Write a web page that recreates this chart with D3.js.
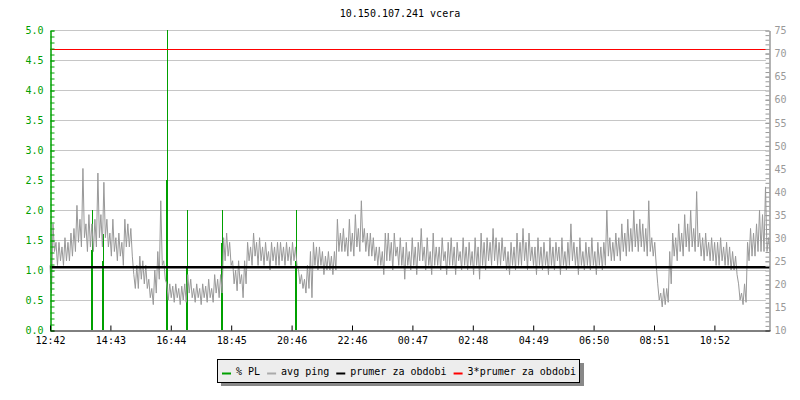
<!DOCTYPE html>
<html>
  <head>
    <title>10.150.107.241 vcera</title>
    <script src="https://d3js.org/d3.v7.min.js"></script>
    <style>
      body { margin: 0; background: #fff; }
      text { font-family: "DejaVu Sans Mono", monospace; font-size: 10px; }
    </style>
  </head>
  <body>
    <svg id="chart" width="800" height="400"></svg>
    <script>
      // chart data
      var title = "10.150.107.241 vcera";
      var timeLabels = ["12:42", "14:43", "16:44", "18:45", "20:46", "22:46",
                        "00:47", "02:48", "04:49", "06:50", "08:51", "10:52"];
      var tickStepMin = 120.8;     // minutes between time labels
      var spanMin = 1440;          // whole day

      // avg ping [ms], right axis, samples evenly spread over the day
      // (read as the upper / lower edge of the jittery trace, pair by pair)
      var avgPing = [
        24,18, 33,27, 29,24, 29,25, 28,24, 30,25, 29,25, 31,26, 32,27, 37,29,
        34,28, 45,30, 33,27, 35,28, 33,27, 34,28, 44,30, 35,28, 42,30, 34,28,
        31,26, 34,27, 30,25, 31,26, 29,24, 34,28, 33,28, 32,26, 22,19, 24,19,
        26,21, 25,20, 24,19, 21,17, 19,15.5, 23,18, 27,21, 38,24, 25,21, 20,16.5,
        20,17, 19.5,16, 20,17, 19,15.5, 19.5,16.5, 20,16, 22,18, 21,17, 19,16, 20,17,
        19,15.5, 20,17, 19.5,16, 21,17, 19,16, 22,18, 21,17, 22,18, 30,25, 31,26,
        29,24, 25,20, 23,18.5, 25,20, 22,17, 25,20, 29,25, 28,24, 31,26, 29,24,
        30,25, 28,24, 29,25, 27,23, 29,25, 28,24, 29,24, 29,25, 28,24, 29,25,
        28,24, 29,25, 28,24, 23,20, 22,19, 21,18, 24,19, 27,17, 29,24, 28,23,
        28,24, 27,22, 26,23, 27,23, 26,22, 27,23, 34,27, 31,27, 32,27, 30,26,
        34,27, 31,26, 35,28, 32,27, 38,29, 32,27, 31,26, 31,26, 30,25, 28,24,
        28,24, 27,22, 31,25, 31,25, 29,23, 31,26, 28,24, 30,24, 28,21, 29,24,
        27,23, 30,24, 28,22, 29,25, 32,25, 28,23, 30,24, 27,22, 31,24, 28,24,
        28,23, 30,25, 27,22, 29,24, 30,24, 28,22, 29,25, 27,23, 30,24, 28,23,
        29,24, 27,22, 30,24, 28,21, 31,24, 29,23, 30,25, 29,24, 32,25, 30,24,
        29,24, 30,25, 28,23, 27,22, 29,24, 28,23, 31,24, 29,24, 32,25, 29,23,
        31,25, 28,24, 28,22, 30,24, 28,23, 29,24, 27,22, 30,24, 28,23, 29,25,
        28,22, 30,24, 27,23, 29,24, 33,25, 29,24, 28,22, 30,24, 27,23, 29,24,
        28,23, 30,24, 27,22, 29,24, 28,23, 29,24, 36,26, 30,25, 29,25, 31,26,
        30,25, 33,27, 31,26, 34,27, 32,27, 36,28, 33,27, 34,28, 33,27, 32,26,
        38,27, 30,26, 29,24, 20,16.5, 18,15, 19,15.5, 19,16, 27,20, 31,26, 30,25,
        33,27, 31,26, 35,28, 33,27, 36,28, 32,27, 40,28, 31,26, 30,25, 31,26,
        29,25, 30,25, 29,24, 29,24, 30,25, 28,24, 29,24, 28,23, 27,23, 26,22,
        20,16.5, 18,15.5, 20,16, 29,25, 32,26, 31,26, 33,27, 36,27, 35,27, 41,27,
        30,27
      ];

      // packet loss samples [minute from start, % PL], left axis
      var plMinutes = [82, 84, 104, 106, 232, 234, 272, 274, 342, 344, 490, 492];
      var plValues  = [1.33, 2.0, 1.15, 1.6, 2.5, 5.0, 1.05, 2.0, 1.45, 2.0, 1.15, 2.0];
      var plSampleMin = 2;

      var avgPeriod = 23.6;        // prumer za obdobi [ms]
      var legendItems = ["% PL", "avg ping", "prumer za obdobi", "3*prumer za obdobi"];

      var colGreen = "#00a000", colPing = "#999999", colGrid = "#c6c6c6";
      var legendColors = [colGreen, "#aaaaaa", "#000000", "#ff0000"];

      var svg = d3.select("#chart");
      var plotLeft = 50, plotRight = 770, plotTop = 30, plotBottom = 330;

      var x = d3.scaleLinear().domain([0, spanMin]).range([plotLeft, plotRight]);
      var yPL = d3.scaleLinear().domain([0, 5]).range([plotBottom, plotTop]);
      var yPing = d3.scaleLinear().domain([10, 75]).range([plotBottom, plotTop]);
      var pingStepMin = spanMin / (avgPing.length - 1);

      svg.append("text")
        .attr("x", 400).attr("y", 17)
        .attr("text-anchor", "middle")
        .text(title);

      // horizontal grid on the left scale
      svg.append("g")
        .selectAll("line")
        .data(d3.range(0.5, 5.01, 0.5))
        .join("line")
        .attr("x1", plotLeft + 4).attr("x2", plotRight - 4)
        .attr("y1", d => Math.round(yPL(d)) + 0.5)
        .attr("y2", d => Math.round(yPL(d)) + 0.5)
        .style("stroke", colGrid);

      // % PL bars
      svg.append("g")
        .selectAll("rect")
        .data(plMinutes.map((m, i) => ({m: m, v: Math.min(plValues[i], 5)})))
        .join("rect")
        .attr("x", d => Math.round(x(d.m)))
        .attr("width", Math.max(1, x(plSampleMin) - x(0)))
        .attr("y", d => Math.round(yPL(d.v)))
        .attr("height", d => plotBottom - Math.round(yPL(d.v)))
        .style("fill", colGreen);

      // avg ping line
      var line = d3.line()
        .x((d, i) => x(i * pingStepMin))
        .y(d => yPing(d));
      svg.append("path")
        .datum(avgPing)
        .attr("d", line)
        .style("fill", "none")
        .style("stroke", colPing)
        .style("stroke-width", 1);

      // prumer za obdobi and 3*prumer
      svg.append("line")
        .attr("x1", plotLeft).attr("x2", plotRight)
        .attr("y1", yPing(avgPeriod)).attr("y2", yPing(avgPeriod))
        .style("stroke", "#000").style("stroke-width", 2.5);
      svg.append("line")
        .attr("x1", plotLeft).attr("x2", plotRight)
        .attr("y1", Math.round(yPing(3 * avgPeriod)) + 0.5)
        .attr("y2", Math.round(yPing(3 * avgPeriod)) + 0.5)
        .style("stroke", "#ff0000").style("stroke-width", 1);

      // left axis (green)
      var gLeftMinor = svg.append("g")
        .attr("transform", "translate(" + (plotLeft + 0.5) + ",0.5)")
        .call(d3.axisLeft(yPL).tickValues(d3.range(0, 5.01, 0.1))
          .tickSizeInner(-4).tickSizeOuter(0).tickFormat(""));
      var gLeft = svg.append("g")
        .attr("transform", "translate(" + (plotLeft + 0.5) + ",0.5)")
        .call(d3.axisLeft(yPL).tickValues(d3.range(0, 5.01, 0.5))
          .tickSizeInner(-4).tickSizeOuter(0).tickPadding(7).tickFormat(d3.format(".1f")));
      [gLeftMinor, gLeft].forEach(g => {
        g.selectAll("path, line").style("stroke", colGreen);
        g.selectAll("text").style("fill", colGreen).style("font-size", "10px")
          .style("font-family", "DejaVu Sans Mono, monospace");
      });

      // right axis (gray)
      var gRightMinor = svg.append("g")
        .attr("transform", "translate(" + (plotRight - 0.5) + ",0.5)")
        .call(d3.axisRight(yPing).tickValues(d3.range(10, 75.1, 1))
          .tickSizeInner(-4).tickSizeOuter(0).tickFormat(""));
      var gRight = svg.append("g")
        .attr("transform", "translate(" + (plotRight - 0.5) + ",0.5)")
        .call(d3.axisRight(yPing).tickValues(d3.range(10, 75.1, 5))
          .tickSizeInner(-4).tickSizeOuter(0).tickPadding(5));
      [gRightMinor, gRight].forEach(g => {
        g.selectAll("path, line").style("stroke", colPing);
        g.selectAll("text").style("fill", colPing).style("font-size", "10px")
          .style("font-family", "DejaVu Sans Mono, monospace");
      });

      // time axis
      var gTime = svg.append("g")
        .attr("transform", "translate(0," + (plotBottom + 0.5) + ")")
        .call(d3.axisBottom(x)
          .tickValues(timeLabels.map((t, i) => i * tickStepMin))
          .tickSizeInner(-5).tickSizeOuter(0).tickPadding(6)
          .tickFormat((d, i) => timeLabels[i]));
      gTime.selectAll("path, line").style("stroke", "#000");
      gTime.selectAll("text").style("fill", "#000").style("font-size", "10px")
        .style("font-family", "DejaVu Sans Mono, monospace");

      // legend
      var lg = svg.append("g");
      lg.append("rect").attr("x", 221).attr("y", 363).attr("width", 363).attr("height", 23)
        .style("fill", "#888");
      lg.append("rect").attr("x", 217.5).attr("y", 359.5).attr("width", 362).attr("height", 23)
        .style("fill", "#ededed").style("stroke", "#000");
      var lx = 222;
      legendItems.forEach((name, i) => {
        lg.append("line")
          .attr("x1", lx).attr("x2", lx + 9)
          .attr("y1", 373.5).attr("y2", 373.5)
          .style("stroke", legendColors[i]).style("stroke-width", 2);
        var t = lg.append("text").attr("x", lx + 14).attr("y", 375).text(name);
        lx += 14 + t.node().getComputedTextLength() + 7;
      });
    </script>
  </body>
</html>
